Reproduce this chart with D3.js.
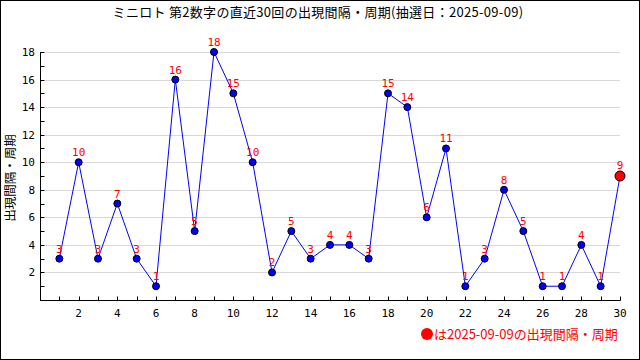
<!DOCTYPE html>
<html><head><meta charset="utf-8">
<script src="https://cdn.jsdelivr.net/npm/d3@7"></script>
<style>body{margin:0;background:#fff}svg{display:block}</style>
</head><body>
<svg id="c" width="640" height="360"></svg>
<script>
const title = "ミニロト 第2数字の直近30回の出現間隔・周期(抽選日：2025-09-09)";
const yLabel = "出現間隔・周期";
const legendText = "は2025-09-09の出現間隔・周期";
const draws = d3.range(1, 31);
const intervals = [3,10,3,7,3,1,16,5,18,15,10,2,5,3,4,4,3,15,14,6,11,1,3,8,5,1,1,4,1,9];
const yTicks = [2,4,6,8,10,12,14,16,18];
const xTicks = [2,4,6,8,10,12,14,16,18,20,22,24,26,28,30];

const svg = d3.select("#c");
const font = "'DejaVu Sans Mono', 'Noto Sans CJK JP', monospace";
const cjk = "'Noto Sans CJK JP', sans-serif";
const L = 40, R = 620, T = 52, B = 300;
const x = d3.scaleLinear().domain([0, 30]).range([L, R]);
const y = d3.scaleLinear().domain([0, 18]).range([B, T]);

svg.append("rect").attr("x", 0.5).attr("y", 0.5).attr("width", 639).attr("height", 359)
  .attr("fill", "#fff").attr("stroke", "#000");

svg.append("text").attr("x", 318).attr("y", 17).attr("text-anchor", "middle")
  .attr("font-family", cjk).attr("font-size", 13).attr("letter-spacing", 0.3).text(title);

// gridlines
svg.append("g").selectAll("line").data(yTicks).join("line")
  .attr("x1", L + 5).attr("x2", R).attr("y1", d => Math.round(y(d)) + 0.5).attr("y2", d => Math.round(y(d)) + 0.5)
  .attr("stroke", "#d8d8d8");

// y axis
const ya = svg.append("g").attr("transform", `translate(${L + 0.5},0)`)
  .call(d3.axisRight(y).tickValues(d3.range(1, 19)).tickSize(4).tickFormat(""));
ya.select(".domain").remove();
ya.selectAll("line").attr("stroke", "#000");
ya.selectAll(".tick").attr("transform", d => `translate(0,${Math.round(y(d)) + 0.5})`);
svg.append("line").attr("x1", L + 0.5).attr("x2", L + 0.5).attr("y1", T).attr("y2", B + 0.5).attr("stroke", "#000");
svg.append("g").selectAll("text").data(yTicks).join("text")
  .attr("x", L - 5).attr("y", d => y(d) + 4).attr("text-anchor", "end")
  .attr("font-family", font).attr("font-size", 11).text(d => d);

// x axis
const xa = svg.append("g").attr("transform", `translate(0,${B + 0.5})`)
  .call(d3.axisTop(x).tickValues(d3.range(1, 31)).tickSize(4).tickFormat(""));
xa.select(".domain").remove();
xa.selectAll("line").attr("stroke", "#000");
xa.selectAll(".tick").attr("transform", d => `translate(${Math.round(x(d)) + 0.5},0)`);
svg.append("line").attr("x1", L).attr("x2", R + 0.5).attr("y1", B + 0.5).attr("y2", B + 0.5).attr("stroke", "#000");
svg.append("g").selectAll("text").data(xTicks).join("text")
  .attr("x", d => x(d)).attr("y", B + 17).attr("text-anchor", "middle")
  .attr("font-family", font).attr("font-size", 11).text(d => d);

svg.append("text").attr("transform", `translate(15,178) rotate(-90)`)
  .attr("text-anchor", "middle").attr("font-family", cjk).attr("font-size", 12.5).text(yLabel);

// line
const data = draws.map((d, i) => ({d, v: intervals[i]}));
svg.append("path").datum(data)
  .attr("d", d3.line().x(p => x(p.d)).y(p => y(p.v)))
  .attr("fill", "none").attr("stroke", "#0000ff").attr("stroke-width", 1);

svg.append("g").selectAll("circle").data(data).join("circle")
  .attr("cx", p => x(p.d)).attr("cy", p => y(p.v))
  .attr("r", (p, i) => i === data.length - 1 ? 5 : 3.5)
  .attr("fill", (p, i) => i === data.length - 1 ? "#ff0000" : "#0000ff")
  .attr("stroke", "#000").attr("stroke-width", 1);

svg.append("g").selectAll("text").data(data).join("text")
  .attr("x", p => x(p.d)).attr("y", (p, i) => y(p.v) - (i === data.length - 1 ? 7 : 6))
  .attr("text-anchor", "middle").attr("font-family", font).attr("font-size", 11)
  .attr("fill", "#ff0000").text(p => p.v);

// legend
svg.append("circle").attr("cx", 427).attr("cy", 334).attr("r", 6).attr("fill", "#ff0000");
svg.append("text").attr("x", 434).attr("y", 339).attr("font-family", cjk).attr("font-size", 13)
  .attr("fill", "#ff0000").text(legendText);
</script>
</body></html>
